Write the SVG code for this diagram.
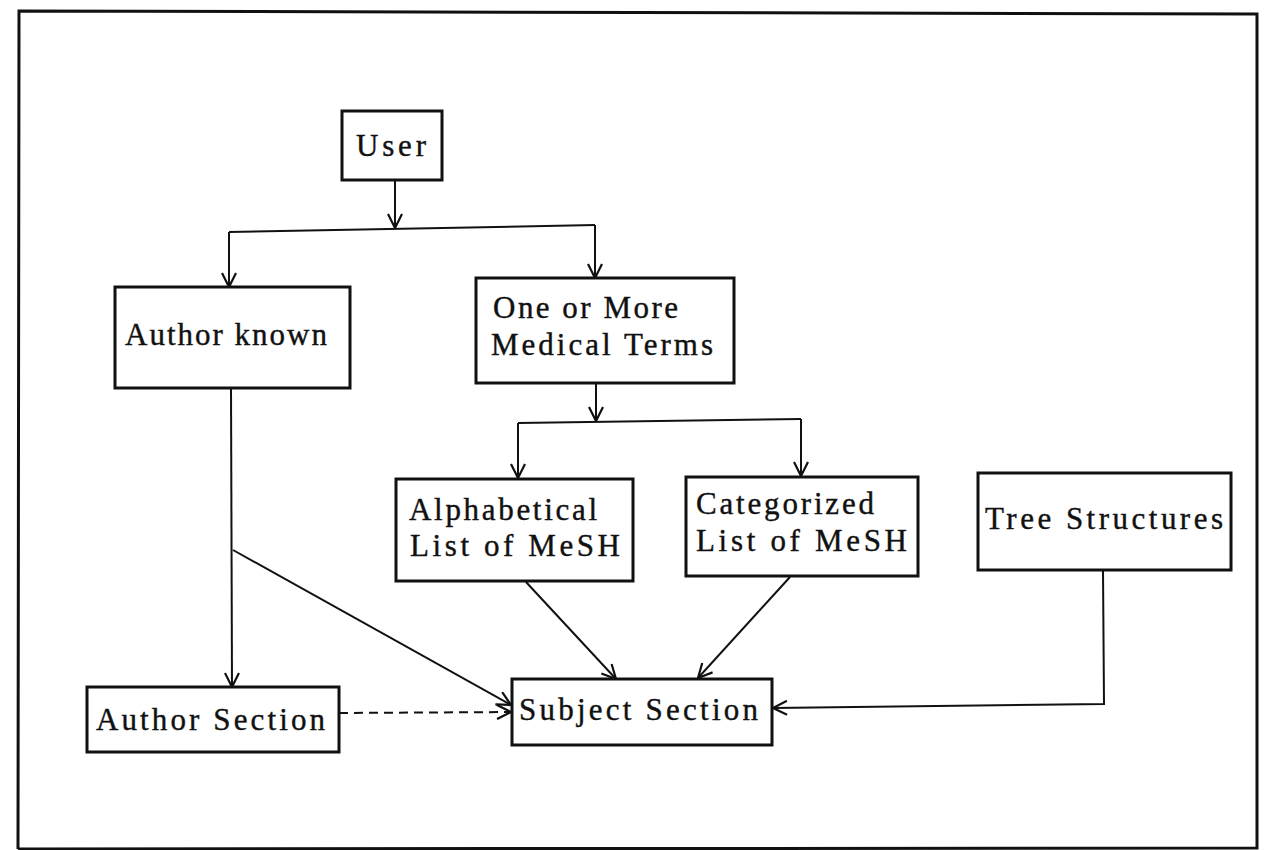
<svg xmlns="http://www.w3.org/2000/svg" width="1265" height="850" viewBox="0 0 1265 850">
<defs>
<style>
.box{fill:none;stroke:#111;stroke-width:3}
.lbl{font-family:"Liberation Serif","Times New Roman",serif;font-size:31px;fill:#111;stroke:#111;stroke-width:0.4}
.c{fill:none;stroke:#111;stroke-width:2}
.d{stroke-dasharray:9 6}
</style>
<marker id="arr" viewBox="0 0 16 16" refX="15" refY="8" markerWidth="16" markerHeight="16" markerUnits="userSpaceOnUse" orient="auto">
<path d="M1,1 L15,8 L1,15" fill="none" stroke="#111" stroke-width="2.2"/>
</marker>
</defs>
<rect width="1265" height="850" fill="#fff"/>
<path d="M18,849 L19,11 L1257,14 L1257,848 L18,849" fill="none" stroke="#111" stroke-width="3"/>
<g id="connectors">
<path class="c" d="M395,180 L395,228" marker-end="url(#arr)"/>
<path class="c" d="M229,232 L595,225"/>
<path class="c" d="M229,232 L229,287" marker-end="url(#arr)"/>
<path class="c" d="M595,225 L595,278" marker-end="url(#arr)"/>
<path class="c" d="M596,383 L596,421" marker-end="url(#arr)"/>
<path class="c" d="M518,423 L801,419"/>
<path class="c" d="M518,423 L518,478" marker-end="url(#arr)"/>
<path class="c" d="M801,419 L801,476" marker-end="url(#arr)"/>
<path class="c" d="M231,388 L232,687" marker-end="url(#arr)"/>
<path class="c" d="M233,550 L511,705" marker-end="url(#arr)"/>
<path class="c d" d="M339,713 L511,712" marker-end="url(#arr)"/>
<path class="c" d="M526,582 L616,679" marker-end="url(#arr)"/>
<path class="c" d="M790,577 L698,678" marker-end="url(#arr)"/>
<path class="c" d="M1103,570 L1104,704 L773,708" marker-end="url(#arr)"/>
</g>
<g id="user">
<rect class="box" x="342" y="111" width="100" height="69"/>
<text class="lbl" x="356" y="156" textLength="70">User</text>
</g>
<g id="author-known">
<rect class="box" x="115" y="287" width="235" height="101"/>
<text class="lbl" x="125" y="345" textLength="202">Author known</text>
</g>
<g id="medical-terms">
<rect class="box" x="476" y="278" width="258" height="105"/>
<text class="lbl" x="493" y="318" textLength="185">One or More</text>
<text class="lbl" x="491" y="355" textLength="222">Medical Terms</text>
</g>
<g id="alphabetical">
<rect class="box" x="396" y="479" width="237" height="102"/>
<text class="lbl" x="409" y="520" textLength="188">Alphabetical</text>
<text class="lbl" x="410" y="556" textLength="210">List of MeSH</text>
</g>
<g id="categorized">
<rect class="box" x="686" y="477" width="232" height="99"/>
<text class="lbl" x="696" y="514" textLength="178">Categorized</text>
<text class="lbl" x="696" y="551" textLength="211">List of MeSH</text>
</g>
<g id="tree-structures">
<rect class="box" x="978" y="473" width="253" height="97"/>
<text class="lbl" x="985" y="529" textLength="238">Tree Structures</text>
</g>
<g id="author-section">
<rect class="box" x="87" y="687" width="252" height="65"/>
<text class="lbl" x="96" y="730" textLength="229">Author Section</text>
</g>
<g id="subject-section">
<rect class="box" x="512" y="679" width="260" height="66"/>
<text class="lbl" x="519" y="720" textLength="239">Subject Section</text>
</g>
</svg>
